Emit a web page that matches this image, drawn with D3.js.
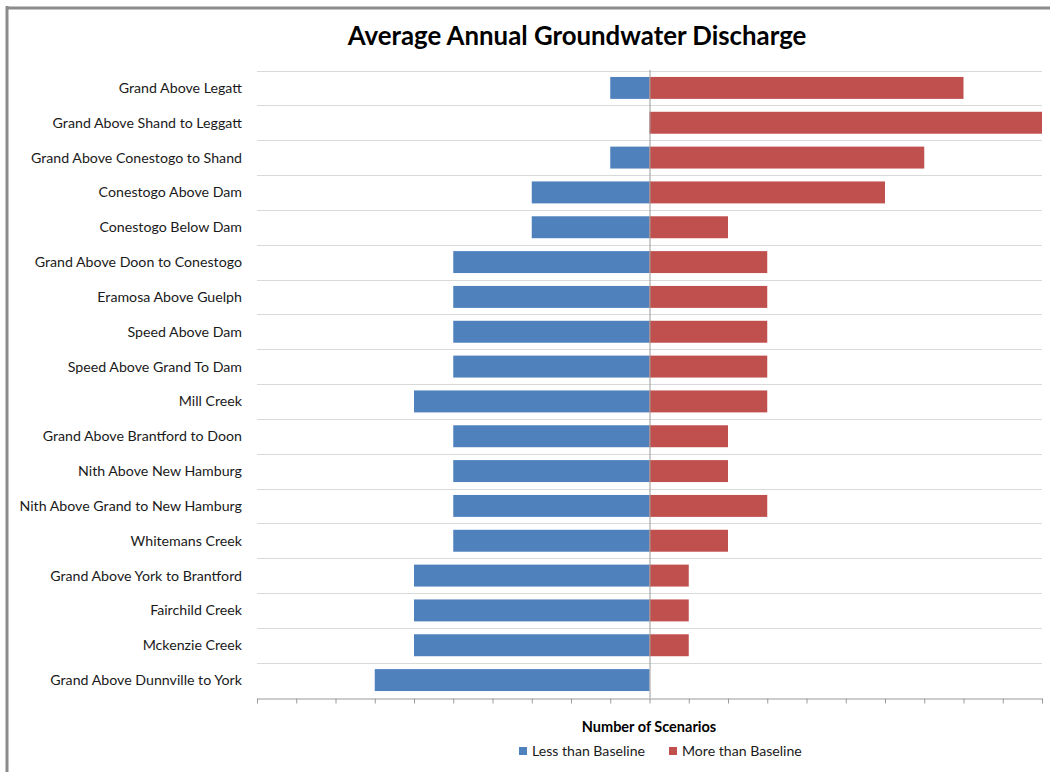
<!DOCTYPE html>
<html><head><meta charset="utf-8">
<script src="https://cdn.jsdelivr.net/npm/d3@7"></script>
<style>body{margin:0;background:#fff;}svg{display:block;font-family:Lato,"Open Sans",sans-serif;}</style>
</head><body>
<svg id="chart" width="1050" height="772"></svg>
<script>
const categories = ["Grand Above Legatt","Grand Above Shand to Leggatt","Grand Above Conestogo to Shand","Conestogo Above Dam","Conestogo Below Dam","Grand Above Doon to Conestogo","Eramosa Above Guelph","Speed Above Dam","Speed Above Grand To Dam","Mill Creek","Grand Above Brantford to Doon","Nith Above New Hamburg","Nith Above Grand to New Hamburg","Whitemans Creek","Grand Above York to Brantford","Fairchild Creek","Mckenzie Creek","Grand Above Dunnville to York"];
const lessThan = [-1,0,-1,-3,-3,-5,-5,-5,-5,-6,-5,-5,-5,-5,-6,-6,-6,-7];
const moreThan = [8,10,7,6,2,3,3,3,3,3,2,2,3,2,1,1,1,0];
const seriesNames = ["Less than Baseline","More than Baseline"];
const colors = ["#4F81BD","#C0504D"];
const xTicks = d3.range(-10,11,1);

const svg = d3.select("#chart");
// frame
svg.append("line").attr("x1",7).attr("x2",7).attr("y1",6).attr("y2",772).attr("stroke","#8c8c8c").attr("stroke-width",3);
svg.append("line").attr("x1",6).attr("x2",1050).attr("y1",8).attr("y2",8).attr("stroke","#8c8c8c").attr("stroke-width",3);

const x = d3.scaleLinear().domain([-10,10]).range([257,1042]);
const y = d3.scaleBand().domain(categories).range([70.5,697.5]).paddingInner(0.37).paddingOuter(0.185);
const step = y.step();

// horizontal gridlines at band boundaries
const g = svg.append("g");
categories.forEach((c,i)=>{
  const yy = Math.round(70.5 + i*step)+0.5;
  g.append("line").attr("x1",257).attr("x2",1042).attr("y1",yy).attr("y2",yy).attr("stroke","#d9d9d9").attr("stroke-width",1);
});

// bars
svg.append("g").selectAll("rect").data(categories).join("rect")
  .attr("x",(d,i)=>x(lessThan[i])).attr("width",(d,i)=>x(0)-x(lessThan[i]))
  .attr("y",d=>y(d)).attr("height",y.bandwidth()).attr("fill",colors[0]);
svg.append("g").selectAll("rect").data(categories).join("rect")
  .attr("x",x(0)).attr("width",(d,i)=>x(moreThan[i])-x(0))
  .attr("y",d=>y(d)).attr("height",y.bandwidth()).attr("fill",colors[1]);

// center vertical axis
svg.append("line").attr("x1",x(0)+0.5).attr("x2",x(0)+0.5).attr("y1",70).attr("y2",698).attr("stroke","#9a9a9a");

// bottom axis
const xAxis = d3.axisBottom(x).tickValues(xTicks).tickFormat("").tickSizeOuter(0).tickSizeInner(5);
const ax = svg.append("g").attr("transform","translate(0,698.5)").call(xAxis);
ax.select(".domain").attr("stroke","#9a9a9a");
ax.selectAll(".tick line").attr("stroke","#9a9a9a");

// category labels
svg.append("g").selectAll("text").data(categories).join("text")
  .attr("x",242).attr("y",d=>y(d)+y.bandwidth()/2).attr("dy","0.35em")
  .attr("text-anchor","end").attr("font-size",14.2).attr("fill","#1a1a1a").text(d=>d);

// title
svg.append("text").attr("x",577).attr("y",45).attr("text-anchor","middle")
  .attr("font-size",25.8).attr("font-weight","bold").attr("fill","#000").text("Average Annual Groundwater Discharge");

// axis title
svg.append("text").attr("x",649).attr("y",732).attr("text-anchor","middle")
  .attr("font-size",14.5).attr("font-weight","bold").attr("fill","#000").text("Number of Scenarios");

// legend
const legX = [519,669];
seriesNames.forEach((s,i)=>{
  svg.append("rect").attr("x",legX[i]).attr("y",747).attr("width",8).attr("height",8).attr("fill",colors[i]);
  svg.append("text").attr("x",legX[i]+13).attr("y",751).attr("dy","0.35em").attr("font-size",14.1).attr("fill","#1a1a1a").text(s);
});
</script>
</body></html>
